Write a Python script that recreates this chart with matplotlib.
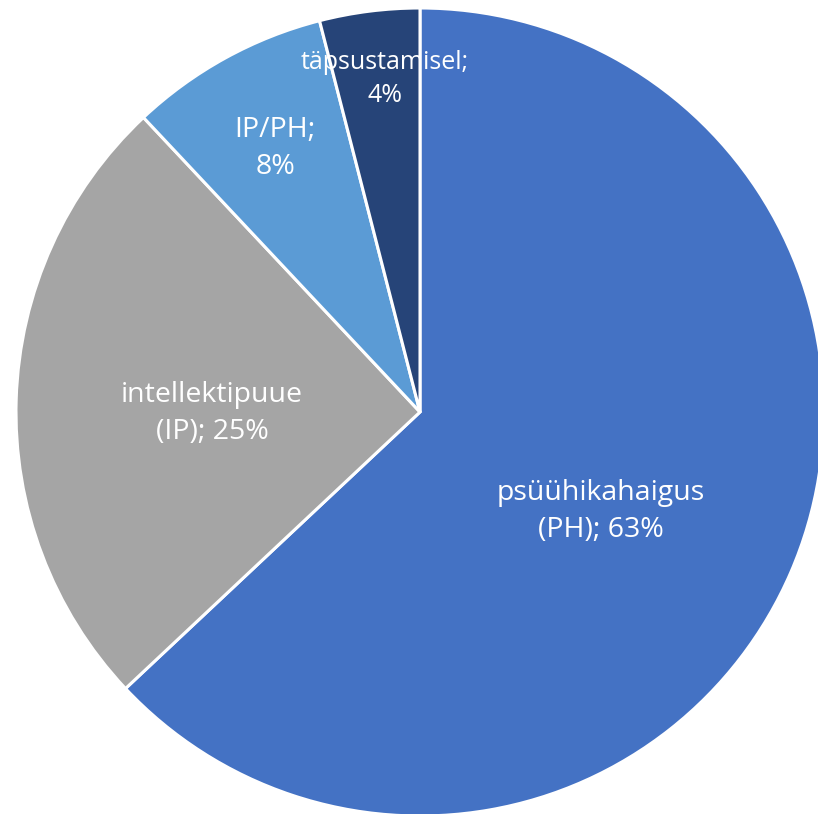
import numpy as np
import matplotlib.pyplot as plt

# slice data (clockwise from 12 o'clock)
labels = ['psüühikahaigus\n(PH); 63%', 'intellektipuue\n(IP); 25%', 'IP/PH;\n8%', 'täpsustamisel;\n4%']
values = [63, 25, 8, 4]
colors = ['#4472C4', '#A5A5A5', '#5B9BD5', '#264478']
lab_r = [0.51, 0.515, 0.745, 0.83]
lab_shift = [-5.5, 2.3, 0.0, -1.2]  # degrees, best-fit nudges
lab_fs = [20.5, 20.5, 20.5, 18]

W, H = 818, 814
fig = plt.figure(figsize=(W/100, H/100), dpi=100)
cx, cy, R = 420, 402, 404
ax = fig.add_axes([(cx-R)/W, (cy-R)/H, 2*R/W, 2*R/H])

wedges, _ = ax.pie(values, colors=colors, startangle=90, counterclock=False,
                   radius=1, wedgeprops=dict(edgecolor='white', linewidth=2.2))
for w in wedges:
    w.set_clip_on(False)
ax.set_xlim(-1, 1); ax.set_ylim(-1, 1)
ax.set_aspect('equal')
ax.axis('off')

tot = sum(values)
cum = 0
for i, v in enumerate(values):
    mid = 90 - (cum + v/2)/tot*360 + lab_shift[i]
    cum += v
    a = np.deg2rad(mid)
    ax.text(lab_r[i]*np.cos(a), lab_r[i]*np.sin(a), labels[i], ha='center', va='center',
            color='white', fontsize=lab_fs[i], family='Open Sans', linespacing=1.42)

fig.savefig('out.png', dpi=100)
